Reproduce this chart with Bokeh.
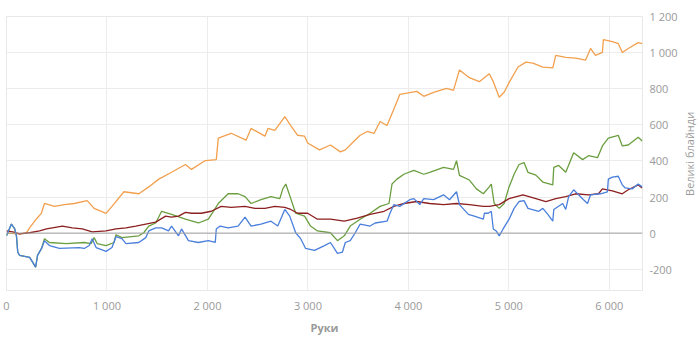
import math
from bokeh.plotting import figure
from bokeh.layouts import row
from bokeh.models import Range1d, FixedTicker, Span, LinearAxis
from bokeh.core.properties import value
from bokeh.embed import file_html
from bokeh.resources import INLINE

# ---- data (hands played, big blinds won) ----
orange_hands = [0, 131, 200, 230, 296, 346, 378, 477, 576, 675, 803, 872, 991, 1050, 1169, 1317, 1416, 1515,
                1643, 1781, 1841, 1979, 2088, 2108, 2236, 2384, 2434, 2572, 2602, 2671, 2720, 2770, 2829, 2898,
                2967, 2997, 3115, 3224, 3323, 3372, 3461, 3520, 3590, 3659, 3718, 3787, 3856, 3915, 3985, 4083,
                4153, 4251, 4380, 4449, 4508, 4607, 4706, 4805, 4845, 4904, 4953, 5002, 5091, 5170, 5239, 5338,
                5437, 5467, 5566, 5664, 5763, 5813, 5862, 5931, 5941, 6030, 6089, 6129, 6188, 6287, 6327]
orange_bb = [0, -4, 3, 29, 77, 109, 164, 148, 158, 164, 180, 137, 109, 148, 229, 218, 256, 299,
             337, 380, 353, 402, 407, 526, 553, 515, 580, 537, 580, 569, 607, 645, 596, 542,
             537, 499, 461, 488, 450, 461, 510, 542, 563, 553, 618, 596, 688, 769, 775, 785,
             758, 780, 802, 791, 904, 861, 839, 883, 839, 753, 780, 834, 920, 947, 942, 920,
             915, 985, 974, 969, 958, 1023, 985, 1001, 1072, 1061, 1050, 1001, 1023, 1055, 1050]

green_hands = [0, 49, 82, 99, 112, 131, 230, 260, 290, 309, 349, 378, 428, 596, 774, 843, 872, 902, 991,
               1070, 1090, 1149, 1317, 1366, 1416, 1485, 1544, 1643, 1781, 1910, 2009, 2078, 2108, 2206,
               2305, 2374, 2434, 2533, 2632, 2720, 2750, 2780, 2829, 2878, 2967, 3026, 3095, 3224, 3294,
               3362, 3421, 3520, 3619, 3718, 3807, 3837, 3886, 3955, 4054, 4153, 4212, 4350, 4449, 4479,
               4508, 4607, 4677, 4746, 4805, 4825, 4854, 4904, 4953, 5002, 5052, 5101, 5151, 5190, 5269,
               5338, 5437, 5447, 5496, 5566, 5645, 5734, 5793, 5882, 5931, 5990, 6089, 6129, 6188, 6287, 6327]
green_bb = [-15, 50, 23, -15, -106, -123, -134, -161, -188, -123, -85, -31, -52, -58, -52, -58, -25, -58, -69,
            -52, -9, -25, -15, 2, 39, 56, 121, 104, 77, 56, 77, 137, 164, 218,
            218, 202, 164, 185, 202, 191, 245, 272, 191, 110, 94, 39, 12, 2, -42,
            -15, 39, 77, 110, 148, 164, 272, 299, 326, 348, 326, 337, 364, 353, 401,
            320, 294, 245, 218, 256, 272, 164, 137, 164, 256, 326, 380, 391, 337, 321,
            283, 267, 364, 375, 337, 445, 407, 429, 418, 483, 526, 542, 483, 488, 531, 510]

red_hands = [0, 62, 131, 230, 329, 398, 457, 556, 655, 754, 853, 991, 1090, 1189, 1287, 1386, 1485, 1584,
             1643, 1712, 1781, 1841, 1940, 2038, 2137, 2236, 2374, 2473, 2572, 2671, 2770, 2829, 2898, 2997,
             3095, 3224, 3362, 3491, 3619, 3758, 3856, 3955, 4083, 4212, 4350, 4479, 4607, 4746, 4805, 4904,
             5002, 5140, 5269, 5368, 5467, 5566, 5664, 5793, 5892, 5931, 6030, 6129, 6188, 6287, 6327]
red_bb = [12, 7, -4, 2, 12, 23, 29, 39, 29, 23, 7, 12, 23, 29, 39, 50, 61, 94,
          88, 94, 115, 110, 110, 121, 148, 142, 148, 137, 137, 148, 142, 131, 110, 110,
          77, 77, 66, 83, 104, 121, 148, 164, 175, 164, 158, 164, 158, 148, 148, 158,
          191, 212, 191, 175, 191, 202, 218, 212, 218, 245, 234, 218, 240, 267, 250]

blue_hands = [0, 49, 82, 99, 112, 131, 230, 260, 290, 309, 349, 378, 428, 527, 724, 774, 823, 853, 892, 991,
              1050, 1090, 1149, 1189, 1317, 1386, 1416, 1485, 1544, 1613, 1643, 1712, 1742, 1811, 1910, 2009,
              2078, 2088, 2127, 2206, 2305, 2374, 2434, 2533, 2632, 2700, 2770, 2819, 2878, 2928, 2977, 3066,
              3165, 3224, 3294, 3343, 3372, 3421, 3471, 3520, 3619, 3669, 3787, 3817, 3856, 3915, 4014, 4054,
              4113, 4153, 4251, 4350, 4409, 4479, 4508, 4597, 4656, 4746, 4756, 4795, 4825, 4845, 4874, 4904,
              4943, 5002, 5052, 5101, 5151, 5190, 5298, 5338, 5388, 5437, 5447, 5536, 5566, 5595, 5645, 5694,
              5743, 5783, 5813, 5912, 5981, 5990, 6030, 6089, 6129, 6158, 6227, 6287, 6327]
blue_bb = [-15, 50, 23, -15, -106, -123, -134, -161, -188, -123, -85, -42, -69, -85, -80, -85, -69, -31, -80, -101,
           -80, -20, -31, -58, -52, -25, 12, 29, 29, 12, 39, -15, 23, -42, -52, -42,
           -52, 23, 39, 29, 39, 88, 39, 50, 66, 39, 131, 94, 2, -31, -85, -96,
           -69, -52, -112, -106, -52, -42, 2, 50, 39, 56, 66, 110, 158, 148, 185, 191,
           158, 191, 185, 212, 185, 229, 158, 104, 94, 77, 110, 110, 121, 23, 12, -15,
           23, 77, 137, 175, 180, 137, 121, 137, 104, 66, 131, 164, 131, 202, 240, 212,
           185, 164, 212, 218, 229, 299, 310, 315, 267, 250, 245, 272, 256]

x_ticks = [0, 1000, 2000, 3000, 4000, 5000, 6000]
x_tick_labels = ["0", "1 000", "2 000", "3 000", "4 000", "5 000", "6 000"]
y_ticks = [-200, 0, 200, 400, 600, 800, 1000, 1200]
y_tick_labels = ["-200", "0", "200", "400", "600", "800", "1 000", "1 200"]
x_title = "Руки"
y_title = "Великі блайнди"

FONT = "Open Sans"
LABEL_COLOR = "#9a9a9a"
X_MAX, Y_MIN, Y_MAX = 6330, -318, 1200

# ---- main chart ----
p = figure(width=680, height=337, output_backend="svg", toolbar_location=None,
           x_range=Range1d(0, X_MAX), y_range=Range1d(Y_MIN, Y_MAX),
           x_axis_location=None, y_axis_location=None,
           min_border_left=6, min_border_right=33, min_border_top=16, min_border_bottom=41)
p.background_fill_color = "white"
p.border_fill_color = "white"
p.outline_line_color = "#e8e8e8"

xaxis = LinearAxis(ticker=FixedTicker(ticks=x_ticks),
                   major_label_overrides=dict(zip(x_ticks, x_tick_labels)))
yaxis = LinearAxis(ticker=FixedTicker(ticks=y_ticks),
                   major_label_overrides=dict(zip(y_ticks, y_tick_labels)))
p.add_layout(xaxis, "below")
p.add_layout(yaxis, "right")

for ax in (xaxis, yaxis):
    ax.axis_line_color = None
    ax.major_tick_line_color = None
    ax.minor_tick_line_color = None
    ax.major_tick_out = 0
    ax.major_tick_in = 0
    ax.minor_tick_out = 0
    ax.major_label_text_font = FONT
    ax.major_label_text_font_size = "11px"
    ax.major_label_text_color = LABEL_COLOR
    ax.major_label_standoff = 7

xaxis.axis_label = x_title
xaxis.axis_label_text_font = FONT
xaxis.axis_label_text_font_size = "11px"
xaxis.axis_label_text_color = LABEL_COLOR
xaxis.axis_label_text_font_style = "bold"
xaxis.axis_label_standoff = 4

p.xgrid.ticker = FixedTicker(ticks=x_ticks)
p.ygrid.ticker = FixedTicker(ticks=y_ticks)
p.xgrid.grid_line_color = "#ececec"
p.ygrid.grid_line_color = "#ececec"

p.add_layout(Span(location=0, dimension="width", line_color="#a0a0a0", line_width=1))

p.line(orange_hands, orange_bb, line_color="#f2a04e", line_width=1.3)
p.line(green_hands, green_bb, line_color="#6a9e3f", line_width=1.3)
p.line(red_hands, red_bb, line_color="#8c1f1f", line_width=1.3)
p.line(blue_hands, blue_bb, line_color="#4a7fdc", line_width=1.3)

# ---- narrow strip holding the right-hand axis title (reads bottom-to-top) ----
STRIP_W, H = 20, 337
t = figure(width=STRIP_W, height=H, output_backend="svg", toolbar_location=None,
           x_range=Range1d(0, STRIP_W), y_range=Range1d(0, H),
           x_axis_location=None, y_axis_location=None,
           min_border_left=0, min_border_right=0, min_border_top=0, min_border_bottom=0)
t.outline_line_color = None
t.background_fill_color = "white"
t.border_fill_color = "white"
t.grid.visible = False
t.text(x=[9], y=[168], text=[y_title], angle=math.pi / 2,
       text_align="center", text_baseline="middle",
       text_font=value(FONT), text_font_size="11px", text_color=LABEL_COLOR)

layout = row(p, t, spacing=0)
open("out.html", "w").write(file_html(layout, INLINE))
